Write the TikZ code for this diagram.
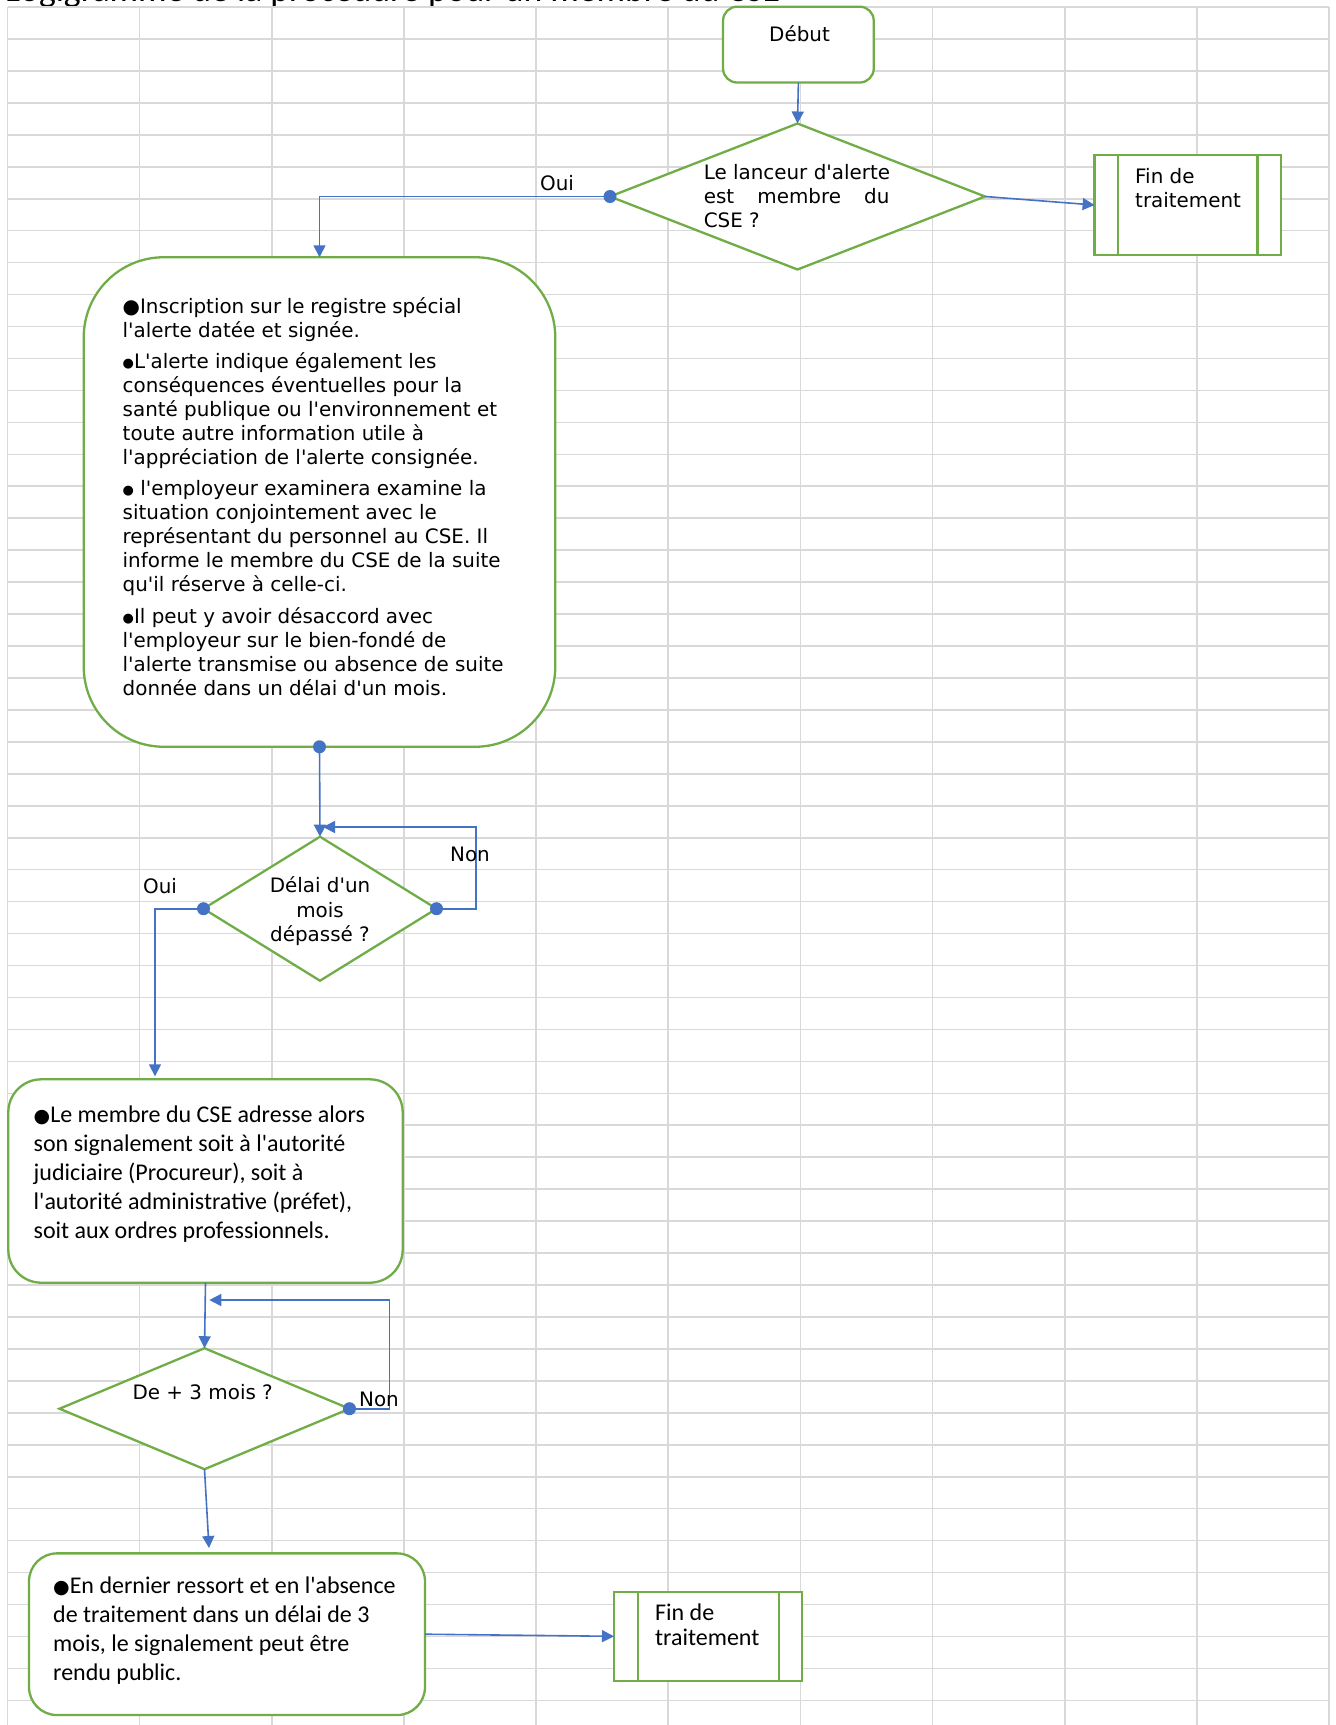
\documentclass[tikz,border=0pt]{standalone}
\usepackage{fontspec}
\usepackage{graphicx}
\setmainfont{DejaVu Sans}[Ligatures=TeXOff]
\newfontfamily\verd{DejaVu Sans}[Ligatures=TeXOff]
\newfontfamily\calib{Carlito}[Ligatures=TeXOff]
\usetikzlibrary{arrows.meta,shapes.geometric}
\definecolor{xlgreen}{HTML}{70AD47}
\definecolor{xlblue}{HTML}{4472C4}
\definecolor{xlgrid}{HTML}{D9D9D9}
\newcommand\Lns[2]{\vtop{\baselineskip=#1\lineskiplimit=-100pt\lineskip=0pt #2}}
\newcommand\Cl[1]{\hbox to 0pt{\hss#1\hss}}
\newcommand\Ll[1]{\hbox{#1}}
\newcommand\Bbul{{\verd ●}}
\newcommand\Sbul{{\verd\fontsize{13}{13}\selectfont\raisebox{0.5pt}{●}}}
\newcommand\Cbul{{\verd\fontsize{19}{19}\selectfont ●}}
\tikzset{
  gridln/.style={draw=xlgrid, line width=1.6pt},
  shp/.style={draw=xlgreen, line width=2.3pt, fill=white, inner sep=0pt, outer sep=0pt},
  dia/.style={shp, diamond, aspect=1},
  conn/.style={draw=xlblue, line width=1.6pt, -{Triangle[length=12pt,width=12pt]}},
  dot/.style={fill=xlblue},
  vtxt/.style={inner sep=0pt, font=\verd\fontsize{19.9}{24}\selectfont},
  ctxt/.style={inner sep=0pt, font=\calib\fontsize{24}{29}\selectfont},
}
\begin{document}
\begin{tikzpicture}[x=1pt,y=-1pt]
\useasboundingbox (0,0) rectangle (1336,1725);
\fill[white] (0,0) rectangle (1336,1725);
% spreadsheet grid
\foreach \k in {0,...,10} \draw[gridln] ({7.5+132.15*\k},7) -- ({7.5+132.15*\k},1725);
\foreach \k in {0,...,53} \draw[gridln] (7.5,{7+31.95*\k}) -- (1329,{7+31.95*\k});
% cut-off title (only its lower edge shows, as in the reference)
\begin{scope}
\clip (0,0) rectangle (1336,5);
\node[inner sep=0pt, anchor=base west] (title) at (5,1.5) {\resizebox{775pt}{!}{\calib Logigramme de la procédure pour un membre du CSE}};
\end{scope}
% shapes
\node[shp, rounded corners=14pt, minimum width=150.7pt, minimum height=75.8pt] (deb) at (798.4,44.6) {};
\node[dia, minimum width=375pt, minimum height=146pt] (d1) at (797.5,196.5) {};
\node[shp, minimum width=186.2pt, minimum height=100pt] (f1) at (1187.7,205) {};
\draw[xlgreen, line width=2.3pt] ([xshift=23.3pt]f1.north west) -- ([xshift=23.3pt]f1.south west);
\draw[xlgreen, line width=2.3pt] ([xshift=-23.2pt]f1.north east) -- ([xshift=-23.2pt]f1.south east);
\node[shp, rounded corners=80pt, minimum width=471.5pt, minimum height=489.5pt] (big) at (319.5,502) {};
\node[dia, minimum width=233pt, minimum height=144pt] (d2) at (320,908.7) {};
\node[shp, rounded corners=33pt, minimum width=394.4pt, minimum height=203.4pt] (b3) at (205.5,1181) {};
\node[dia, minimum width=290pt, minimum height=121pt] (d3) at (204.5,1408.7) {};
\node[shp, rounded corners=28pt, minimum width=396pt, minimum height=161.7pt] (b4) at (227,1634.2) {};
\node[shp, minimum width=188pt, minimum height=89.3pt] (f2) at (708,1636.3) {};
\draw[xlgreen, line width=2.3pt] ([xshift=24pt]f2.north west) -- ([xshift=24pt]f2.south west);
\draw[xlgreen, line width=2.3pt] ([xshift=-22.7pt]f2.north east) -- ([xshift=-22.7pt]f2.south east);
% helper coordinates
\coordinate (c2a) at (476,827);
\coordinate (c2b) at (323,827);
\coordinate (c3a) at (389.3,1300);
\coordinate (c3b) at (209.3,1300);
\coordinate (b4in) at (209,1548);
% connectors
\draw[conn] (deb.south) -- (d1.north);
\draw[conn] (d1.east) -- (f1.west);
\draw[conn] (d1.west) -| (big.north);
\fill[dot] (d1.west) circle (6.5pt);
\draw[conn] (big.south) -- (d2.north);
\fill[dot] (big.south) circle (6.5pt);
\draw[conn] (d2.east) -| (c2a) -- (c2b);
\fill[dot] (d2.east) circle (6.5pt);
\draw[conn] (d2.west) -| ([xshift=-50.5pt,yshift=3pt]b3.north);
\fill[dot] (d2.west) circle (6.5pt);
\draw[conn] (b3.south) -- (d3.north);
\draw[conn] (d3.east) -| (c3a) -- (c3b);
\fill[dot] (d3.east) circle (6.5pt);
\draw[conn] (d3.south) -- (b4in);
\draw[conn] (b4.east) -- (f2.west);
% texts
\node[vtxt, anchor=base] (tdeb) at (799.5,41.5) {Début};
\node[vtxt, anchor=base west] (td1) at (703.6,179) {\Lns{24pt}{\Ll{Le lanceur d'alerte}\Ll{\makebox[185.7pt][s]{est membre du}}\Ll{CSE ?}}};
\node[vtxt, anchor=base west] (tf1) at (1135,183.5) {\Lns{24pt}{\Ll{Fin de}\Ll{traitement}}};
\node[vtxt, anchor=base] (oui1) at (557,190.3) {Oui};
\node[vtxt, anchor=base west] (tbig) at (122.5,313) {\Lns{24pt}{%
\Ll{\makebox[339pt][s]{\Bbul Inscription sur le registre spécial}}%
\Ll{l'alerte datée et signée.}\vskip7pt
\Ll{\Sbul L'alerte indique également les}%
\Ll{conséquences éventuelles pour la}%
\Ll{santé publique ou l'environnement et}%
\Ll{toute autre information utile à}%
\Ll{l'appréciation de l'alerte consignée.}\vskip7pt
\Ll{\Sbul\ l'employeur examinera examine la}%
\Ll{situation conjointement avec le}%
\Ll{représentant du personnel au CSE. Il}%
\Ll{informe le membre du CSE de la suite}%
\Ll{qu'il réserve à celle-ci.}\vskip8pt
\Ll{\Sbul Il peut y avoir désaccord avec}%
\Ll{l'employeur sur le bien-fondé de}%
\Ll{l'alerte transmise ou absence de suite}%
\Ll{donnée dans un délai d'un mois.}}};
\node[vtxt, anchor=base] (non2) at (470,861.7) {Non};
\node[vtxt, anchor=base] (oui2) at (160,893.3) {Oui};
\node[vtxt, anchor=base] (td2) at (320,892.7) {\Lns{24.4pt}{\Cl{Délai d'un}\Cl{mois}\Cl{dépassé ?}}};
\node[ctxt, anchor=base west] (tb3) at (33.5,1122.3) {\Lns{29pt}{%
\Ll{\Cbul Le membre du CSE adresse alors}%
\Ll{son signalement soit à l'autorité}%
\Ll{judiciaire (Procureur), soit à}%
\Ll{l'autorité administrative (préfet),}%
\Ll{soit aux ordres professionnels.}}};
\node[vtxt, anchor=base] (td3) at (202.7,1399) {De + 3 mois ?};
\node[vtxt, anchor=base] (non3) at (379,1406) {Non};
\node[ctxt, anchor=base west] (tb4) at (53,1593.3) {\Lns{29.2pt}{%
\Ll{\Cbul En dernier ressort et en l'absence}%
\Ll{de traitement dans un délai de 3}%
\Ll{mois, le signalement peut être}%
\Ll{rendu public.}}};
\node[ctxt, anchor=base west] (tf2) at (655,1620.7) {\Lns{24.3pt}{\Ll{Fin de}\Ll{traitement}}};
\end{tikzpicture}
\end{document}
